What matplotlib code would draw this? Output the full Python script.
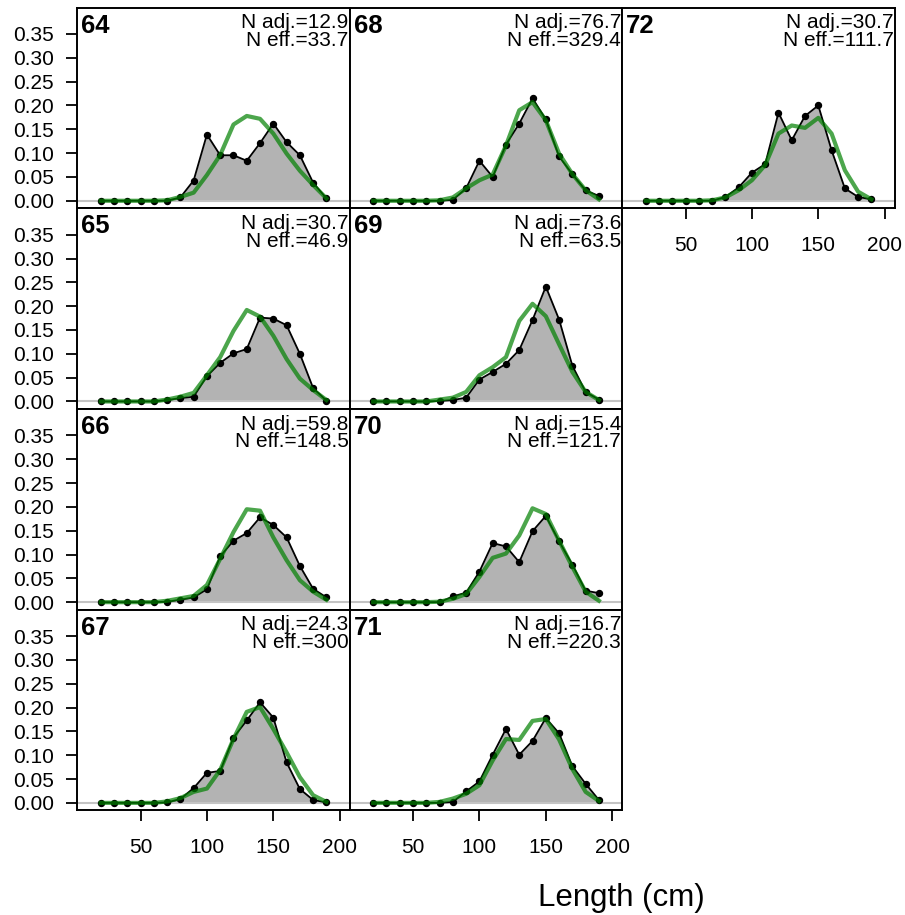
import matplotlib
matplotlib.use("Agg")
from matplotlib import pyplot as plt
import numpy as np

plt.rcParams['font.family'] = ['Liberation Sans', 'DejaVu Sans']

lengths = np.arange(20, 200, 10)
years = [64, 65, 66, 67, 68, 69, 70, 71, 72]
n_adj = [12.9, 30.7, 59.8, 24.3, 76.7, 73.6, 15.4, 16.7, 30.7]
n_eff = [33.7, 46.9, 148.5, 300, 329.4, 63.5, 121.7, 220.3, 111.7]

obs = {
    64: [0, 0, 0, 0, 0, 0, 0.007, 0.0425, 0.139, 0.0955, 0.0955, 0.084, 0.121, 0.162, 0.123, 0.0955, 0.038, 0.005],
    65: [0, 0, 0, 0, 0, 0.003, 0.007, 0.010, 0.053, 0.081, 0.101, 0.110, 0.176, 0.174, 0.160, 0.100, 0.028, 0.002],
    66: [0, 0, 0, 0, 0, 0.001, 0.005, 0.010, 0.027, 0.096, 0.129, 0.145, 0.178, 0.162, 0.136, 0.076, 0.028, 0.010],
    67: [0, 0, 0, 0, 0, 0.001, 0.008, 0.031, 0.063, 0.067, 0.137, 0.173, 0.211, 0.179, 0.085, 0.029, 0.006, 0.001],
    68: [0, 0, 0, 0, 0, 0, 0.002, 0.026, 0.084, 0.050, 0.118, 0.162, 0.215, 0.171, 0.093, 0.056, 0.022, 0.010],
    69: [0, 0, 0, 0, 0, 0.001, 0.003, 0.008, 0.046, 0.062, 0.079, 0.108, 0.171, 0.241, 0.172, 0.075, 0.020, 0.004],
    70: [0, 0, 0, 0, 0, 0, 0.012, 0.020, 0.064, 0.124, 0.117, 0.084, 0.149, 0.181, 0.128, 0.079, 0.024, 0.019],
    71: [0, 0, 0, 0, 0, 0, 0.002, 0.024, 0.045, 0.101, 0.155, 0.101, 0.130, 0.178, 0.146, 0.077, 0.040, 0.006],
    72: [0, 0, 0, 0, 0, 0, 0.008, 0.028, 0.059, 0.077, 0.185, 0.127, 0.178, 0.200, 0.106, 0.026, 0.008, 0.003],
}
exp = {
    64: [0, 0, 0, 0, 0, 0.001, 0.008, 0.017, 0.054, 0.096, 0.160, 0.178, 0.172, 0.141, 0.099, 0.063, 0.033, 0.005],
    65: [0, 0, 0, 0, 0, 0.004, 0.010, 0.018, 0.055, 0.093, 0.148, 0.192, 0.178, 0.138, 0.089, 0.048, 0.024, 0.003],
    66: [0, 0, 0, 0, 0, 0.003, 0.008, 0.013, 0.036, 0.091, 0.147, 0.195, 0.192, 0.136, 0.088, 0.046, 0.022, 0.005],
    67: [0, 0, 0, 0, 0, 0.003, 0.010, 0.023, 0.030, 0.069, 0.134, 0.191, 0.201, 0.155, 0.106, 0.054, 0.016, 0.002],
    68: [0, 0, 0, 0, 0, 0.001, 0.007, 0.026, 0.043, 0.055, 0.116, 0.190, 0.207, 0.169, 0.099, 0.056, 0.022, 0.003],
    69: [0, 0, 0, 0, 0, 0.004, 0.008, 0.020, 0.055, 0.072, 0.093, 0.169, 0.205, 0.179, 0.120, 0.062, 0.020, 0.003],
    70: [0, 0, 0, 0, 0, 0.001, 0.007, 0.017, 0.053, 0.093, 0.102, 0.140, 0.197, 0.185, 0.129, 0.074, 0.022, 0.003],
    71: [0, 0, 0, 0, 0, 0.002, 0.009, 0.019, 0.037, 0.089, 0.134, 0.132, 0.172, 0.176, 0.133, 0.071, 0.023, 0.004],
    72: [0, 0, 0, 0, 0, 0.001, 0.007, 0.022, 0.043, 0.075, 0.141, 0.158, 0.153, 0.174, 0.141, 0.064, 0.019, 0.003],
}

W, H = 905, 915
fig = plt.figure(figsize=(W / 100, H / 100), dpi=100)

col_left = [77.3, 349.8, 622.3]
row_top = [7.5, 208.2, 408.9, 609.6]
pw, ph = 272.5, 200.7
yticks = [0, 0.05, 0.10, 0.15, 0.20, 0.25, 0.30, 0.35]

for i, yr in enumerate(years):
    col, row = i // 4, i % 4
    l, t = col_left[col], row_top[row]
    ax = fig.add_axes([l / W, 1 - (t + ph) / H, pw / W, ph / H])
    o = np.array(obs[yr])
    e = np.array(exp[yr])
    ax.fill_between(lengths, 0, o, color='#b3b3b3', lw=0, zorder=1)
    ax.axhline(0, color='#c4c4c4', lw=1.5, zorder=2)
    ax.plot(lengths, o, color='k', lw=1.3, marker='o', ms=4.3, zorder=3)
    ax.plot(lengths, e, color=(0, 0.5, 0), alpha=0.7, lw=3, zorder=4)
    ax.set_xlim(2.4, 207.6)
    ax.set_ylim(-0.0156, 0.4056)
    for s in ax.spines.values():
        s.set_linewidth(1.4)
    ax.set_xticks([50, 100, 150, 200])
    ax.set_yticks(yticks)
    ax.tick_params(direction='out', length=8, width=1.3, labelsize=15)
    ax.tick_params(axis='x', pad=12)
    ax.tick_params(axis='y', pad=9)
    if col == 0:
        ax.set_yticklabels(['%.2f' % v for v in yticks])
    else:
        ax.tick_params(axis='y', left=False, labelleft=False)
    if not (row == 3 or (col == 2 and row == 0)):
        ax.tick_params(axis='x', bottom=False, labelbottom=False)
    ax.text(0.014, 0.875, str(yr), transform=ax.transAxes, fontsize=18.5,
            fontweight='bold', ha='left', va='baseline')
    ax.text(0.996, 0.896, 'N adj.=%g' % n_adj[i], transform=ax.transAxes,
            fontsize=15, ha='right', va='baseline')
    ax.text(0.996, 0.808, 'N eff.=%g' % n_eff[i], transform=ax.transAxes,
            fontsize=15, ha='right', va='baseline')

fig.text(621.5 / W, 1 - 906 / H, 'Length (cm)', fontsize=22.5, ha='center', va='baseline')

fig.savefig('out.png', dpi=100)
